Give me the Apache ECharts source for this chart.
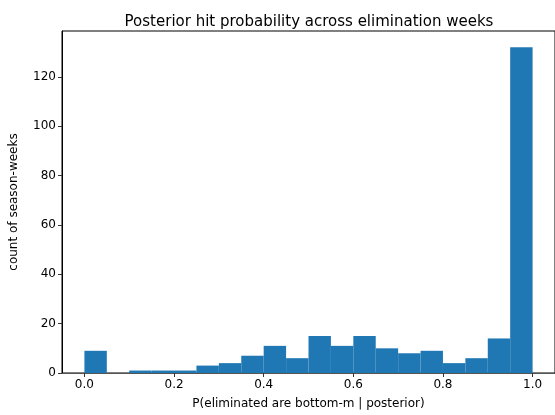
<!DOCTYPE html>
<html>
<head>
<meta charset="utf-8">
<script src="https://cdn.jsdelivr.net/npm/echarts@6/dist/echarts.min.js"></script>
<style>
  html, body { margin: 0; padding: 0; background: #fff; }
  #chart { width: 555px; height: 415px; }
</style>
</head>
<body>
<div id="chart"></div>
<script>
// Histogram bins (edges) and counts per bin
const binStarts = [0.00, 0.05, 0.10, 0.15, 0.20, 0.25, 0.30, 0.35, 0.40, 0.45,
                   0.50, 0.55, 0.60, 0.65, 0.70, 0.75, 0.80, 0.85, 0.90, 0.95];
const binEnds   = [0.05, 0.10, 0.15, 0.20, 0.25, 0.30, 0.35, 0.40, 0.45, 0.50,
                   0.55, 0.60, 0.65, 0.70, 0.75, 0.80, 0.85, 0.90, 0.95, 1.00];
const counts    = [9, 0, 1, 1, 1, 3, 4, 7, 11, 6,
                   15, 11, 15, 10, 8, 9, 4, 6, 14, 132];
const xTicks = [0, 0.2, 0.4, 0.6, 0.8, 1.0];
const yTicks = [0, 20, 40, 60, 80, 100, 120];

const chart = echarts.init(document.getElementById('chart'), null, { renderer: 'canvas' });
const font = 'DejaVu Sans';

const data = binStarts.map((s, i) => [s, binEnds[i], counts[i]]);

chart.setOption({
  animation: false,
  title: {
    text: 'Posterior hit probability across elimination weeks',
    left: 304, top: 10, textAlign: 'center',
    textStyle: { fontFamily: font, fontSize: 15, fontWeight: 'normal', color: '#000' }
  },
  grid: {
    left: 60, top: 31, width: 497, height: 346,
    show: true, borderColor: '#000', borderWidth: 1, backgroundColor: 'transparent'
  },
  xAxis: {
    type: 'value', min: -0.05, max: 1.05,
    name: 'P(eliminated are bottom-m | posterior)',
    nameLocation: 'middle', nameGap: 25,
    nameTextStyle: { fontFamily: font, fontSize: 12, color: '#000' },
    axisLine: { show: true, onZero: false, lineStyle: { color: '#555', width: 1 } },
    axisTick: { show: true, length: 4, customValues: xTicks, lineStyle: { color: '#333' } },
    axisLabel: {
      customValues: xTicks, margin: 6,
      fontFamily: font, fontSize: 12, color: '#000',
      formatter: v => v.toFixed(1)
    },
    splitLine: { show: false }
  },
  yAxis: {
    type: 'value', min: 0, max: 138.6,
    name: 'count of season-weeks',
    nameLocation: 'middle', nameGap: 42, nameRotate: 90,
    nameTextStyle: { fontFamily: font, fontSize: 12, color: '#000' },
    axisLine: { show: true, onZero: false, lineStyle: { color: '#000', width: 1 } },
    axisTick: { show: true, length: 4, customValues: yTicks, lineStyle: { color: '#333' } },
    axisLabel: {
      customValues: yTicks, margin: 6,
      fontFamily: font, fontSize: 12, color: '#000'
    },
    splitLine: { show: false }
  },
  series: [{
    type: 'custom',
    data: data,
    encode: { x: [0, 1], y: 2 },
    renderItem: function (params, api) {
      const p0 = api.coord([api.value(0), 0]);
      const p1 = api.coord([api.value(1), api.value(2)]);
      return {
        type: 'rect',
        shape: { x: p0[0], y: p1[1], width: p1[0] - p0[0], height: p0[1] - p1[1] },
        style: { fill: '#1f77b4' }
      };
    }
  }]
});
</script>
</body>
</html>
